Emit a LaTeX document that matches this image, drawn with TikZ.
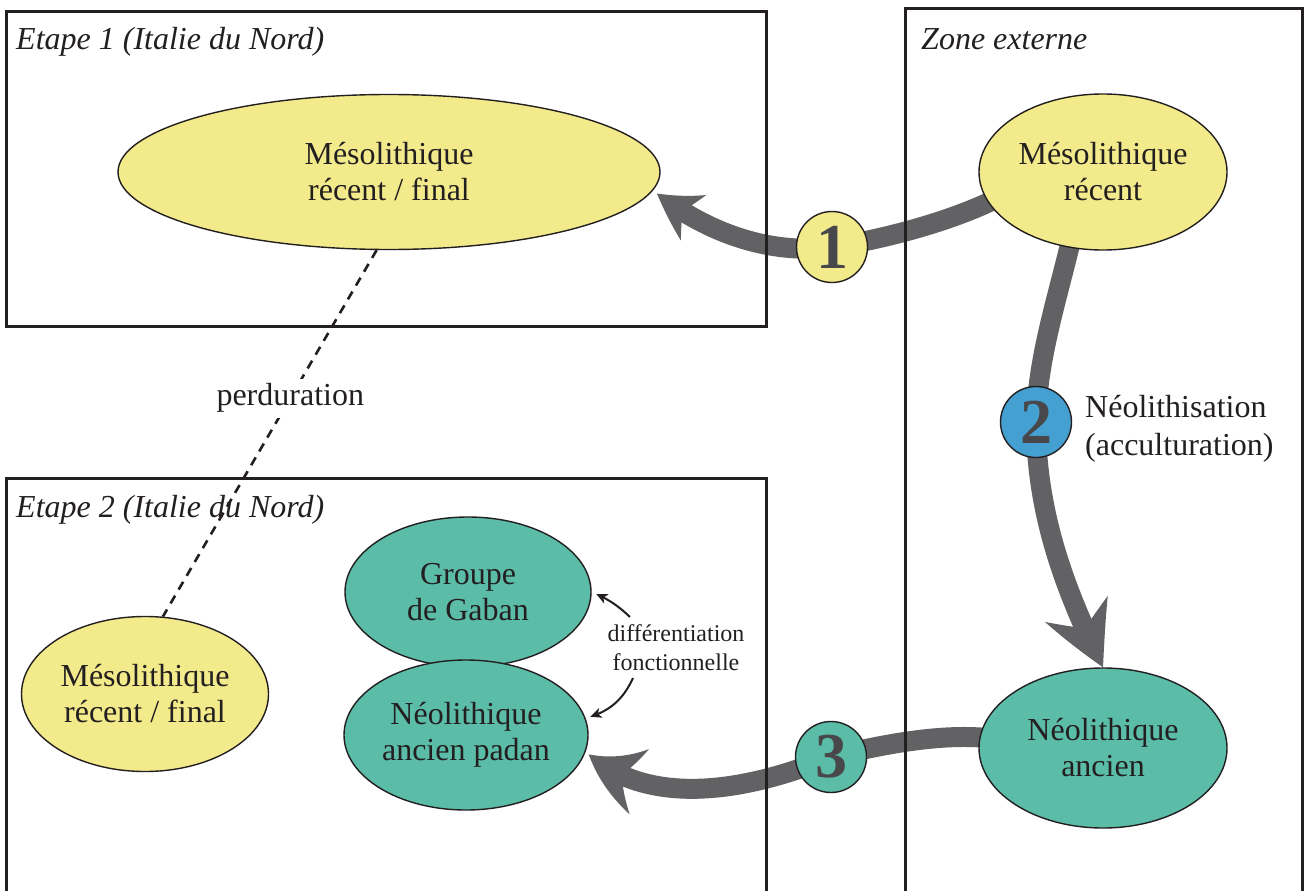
\documentclass[tikz,border=0pt]{standalone}
\usepackage{fontspec}
\setmainfont{Liberation Serif}
\usetikzlibrary{arrows.meta,bending,shapes.geometric,backgrounds}
\definecolor{yel}{RGB}{243,235,139}
\definecolor{tealc}{RGB}{91,188,168}
\definecolor{bluc}{RGB}{69,160,210}
\definecolor{agray}{RGB}{98,98,100}
\definecolor{ink}{RGB}{35,31,32}
\definecolor{numgray}{RGB}{72,72,74}
\begin{document}
\begin{tikzpicture}[x=1pt,y=-1pt,
  every node/.style={text=ink},
  oval/.style={ellipse, draw=ink, line width=1.4pt, inner sep=0pt, align=center, font=\fontsize{32}{36}\selectfont},
  numcirc/.style={circle, draw=ink, line width=1.4pt, minimum size=71pt, inner sep=0pt, font=\fontsize{64}{64}\selectfont\bfseries, text=numgray},
  boxline/.style={draw=ink, line width=3pt},
  heading/.style={anchor=base west, inner sep=0pt, font=\fontsize{32}{36}\selectfont\itshape},
  bigflow/.style={draw=agray, line width=20pt, shorten <=-10pt},
  dashline/.style={draw=ink, line width=2.6pt, dash pattern=on 9pt off 7pt},
  smallarrow/.style={draw=ink, line width=2pt, -{Stealth[length=11pt,width=10pt,inset=3pt]}}
]
\useasboundingbox (0,0) rectangle (1306,891);

% frames
\draw[boxline] (6,12) rectangle (766,326);
\draw[boxline] (6,900) |- (766,478) -- (766,900);
\draw[boxline] (905,900) |- (1302,9) -- (1302,900);

% headings
\node[heading] (h1) at (16,49) {Etape 1 (Italie du Nord)};
\node[heading] (h2) at (16,517) {Etape 2 (Italie du Nord)};
\node[heading] (h3) at (921,49) {Zone externe};

% ellipses
\node[oval, fill=yel, minimum width=542pt, minimum height=155pt] (mt) at (389,172) {Mésolithique\\récent / final};
\node[oval, fill=yel, minimum width=248pt, minimum height=156pt] (mr) at (1103,172) {Mésolithique\\récent};
\node[oval, fill=tealc, minimum width=248pt, minimum height=160pt] (na) at (1103,748) {Néolithique\\ancien};
\node[oval, fill=tealc, minimum width=246pt, minimum height=150pt] (gab) at (468,592) {Groupe\\de Gaban};
\node[oval, fill=tealc, minimum width=244pt, minimum height=150pt] (pad) at (466,735) {Néolithique\\ancien padan};
\node[oval, fill=yel, minimum width=247pt, minimum height=155pt] (ml) at (145,694) {Mésolithique\\récent / final};

% numbered circles
\node[numcirc, fill=yel] (c1) at (832,247) {1};
\node[numcirc, fill=bluc] (c2) at (1036,422) {2};
\node[numcirc, fill=tealc] (c3) at (831,757) {3};

% labels
\node[font=\fontsize{32}{38}\selectfont, align=left, anchor=west, inner sep=0pt] (neo) at (1085,429) {Néolithisation\\(acculturation)};
\node[font=\fontsize{24}{29}\selectfont, align=center, inner sep=0pt] (diff) at (676,648) {différentiation\\fonctionnelle};
\coordinate (da1) at (630,617);
\coordinate (da2) at (633,678);

% perduration
\draw[dashline] (mt.261) -- node[pos=0.404, fill=white, inner sep=5pt, font=\fontsize{32}{36}\selectfont] (perd) {perduration} (ml.77);

% small arrows
\draw[smallarrow, shorten >=5pt] (da1) to[bend right=10] (gab.0);
\draw[smallarrow, shorten >=5pt] (da2) to[bend left=25] (pad.8);

\begin{pgfonlayer}{background}
\fill[white] (0,0) rectangle (1306,891);
\draw[bigflow, -{Stealth[length=46pt,width=52pt,inset=14pt,line width=0pt,bend]}, shorten >=5pt]
  (mr.195) .. controls (950,222) and (880,240) .. (c1.center) .. controls (780,254) and (715,240) .. (mt.-4);
\draw[bigflow, -{Stealth[length=62pt,width=68pt,inset=20pt,line width=0pt,bend]}]
  (mr.246) .. controls (1057,300) and (1037,360) .. (c2.center) .. controls (1036,520) and (1070,600) .. (na.90);
\draw[bigflow, -{Stealth[length=60pt,width=68pt,inset=20pt,line width=0pt,bend]}, shorten >=4pt]
  (na.175) .. controls (940,733) and (880,745) .. (c3.center) .. controls (750,790) and (650,810) .. (pad.-8);
\end{pgfonlayer}
\end{tikzpicture}
\end{document}
